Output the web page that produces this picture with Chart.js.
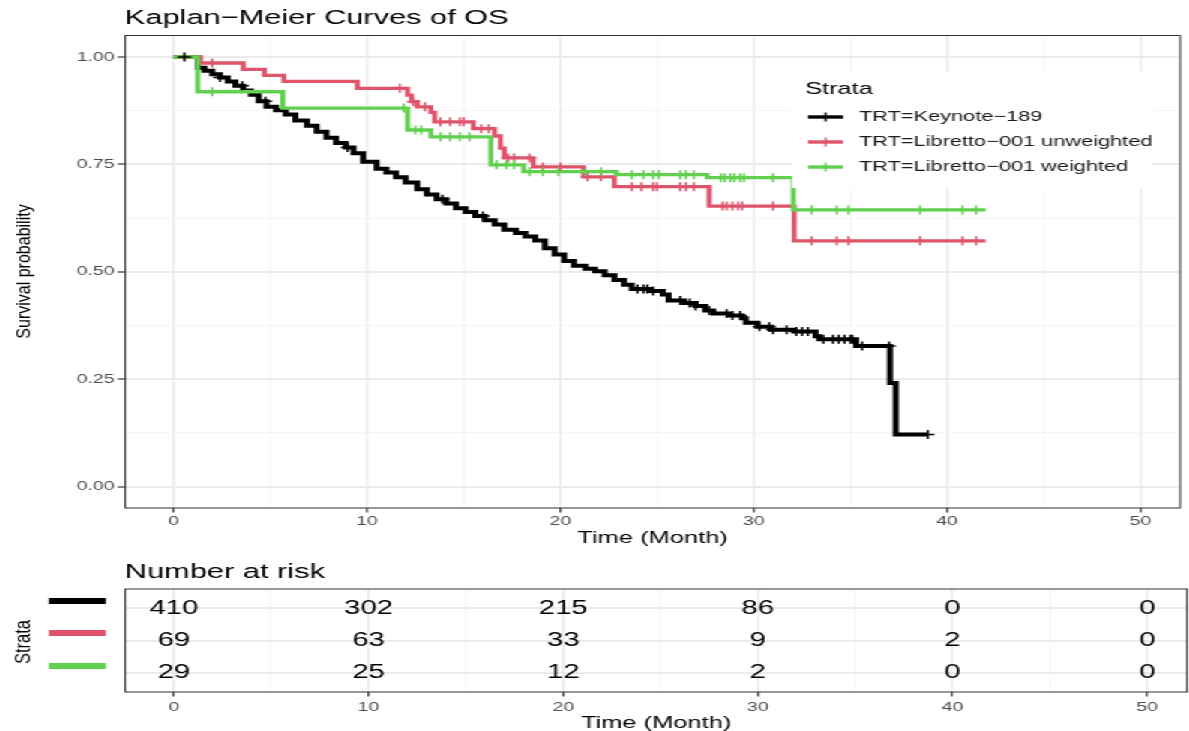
<!DOCTYPE html>
<html>
<head>
<meta charset="utf-8">
<title>Kaplan−Meier Curves of OS</title>
<script src="https://cdn.jsdelivr.net/npm/chart.js@4.4.1/dist/chart.umd.min.js"></script>
<style>
  html, body { margin: 0; padding: 0; background: #fff; overflow: hidden; }
  /* the whole figure is drawn narrow and stretched sideways */
  #stage { position: absolute; left: 0; top: 0; width: 793px; height: 731px; transform-origin: 0 0; transform: scaleX(1.49937); }
  #km { position: absolute; left: 0; top: 0; }
  #risk { position: absolute; left: 0; top: 560px; }
</style>
</head>
<body>
<div id="stage">
  <canvas id="km" width="793" height="560"></canvas>
  <canvas id="risk" width="793" height="171"></canvas>
</div>
<script>
// Keynote-189 (time in months, survival after each step)
const keynoteTime = [0, 1.25, 1.6, 2.0, 2.4, 2.8, 3.2, 3.6, 4.0, 4.4, 4.8, 5.3, 5.8, 6.3, 6.9, 7.4, 7.9, 8.4, 8.9, 9.3,
  9.8, 10.5, 11.0, 11.5, 12.0, 12.6, 13.1, 13.6, 14.1, 14.6, 15.1, 15.6, 16.1, 16.6, 17.1, 17.7, 18.2, 18.7, 19.2, 19.7,
  20.2, 20.7, 21.3, 21.8, 22.3, 22.8, 23.3, 23.7, 24.6, 25.3, 25.6, 26.4, 27.0, 27.5, 27.9, 28.8, 29.4, 29.6, 30.2, 30.9,
  32.1, 33.2, 33.4, 35.3, 37.05, 37.35, 39.0];
const keynoteSurv = [1.0, 0.975, 0.968, 0.960, 0.952, 0.943, 0.933, 0.922, 0.912, 0.897, 0.884, 0.876, 0.866, 0.852, 0.840, 0.826, 0.812, 0.800, 0.789, 0.776,
  0.756, 0.740, 0.731, 0.720, 0.708, 0.692, 0.680, 0.669, 0.659, 0.648, 0.639, 0.630, 0.620, 0.610, 0.598, 0.590, 0.582, 0.573, 0.555, 0.540,
  0.525, 0.514, 0.507, 0.501, 0.492, 0.481, 0.470, 0.460, 0.455, 0.447, 0.433, 0.427, 0.420, 0.410, 0.403, 0.398, 0.392, 0.381, 0.372, 0.365,
  0.361, 0.350, 0.343, 0.327, 0.241, 0.121, 0.121];
const keynoteCensor = [0.56, 2.4, 3.55, 4.75, 9.0, 13.9, 16.0, 24.0, 24.3, 24.5, 24.8, 26.2, 26.7, 27.0, 27.7, 28.6, 28.9, 29.3,
  30.3, 30.8, 31.0, 31.7, 32.2, 32.5, 32.8, 33.6, 34.1, 34.4, 34.7, 35.0, 35.1, 35.6, 37.0, 39.0];

// Libretto-001 unweighted
const unweightedTime = [0, 1.4, 3.6, 4.7, 5.7, 9.5, 12.1, 12.3, 12.6, 13.3, 13.5, 15.5, 16.6, 16.9, 17.1, 18.6, 21.2, 22.8, 27.7, 32.1, 42.0];
const unweightedSurv = [1.0, 0.986, 0.971, 0.957, 0.943, 0.927, 0.911, 0.896, 0.884, 0.871, 0.849, 0.833, 0.816, 0.788, 0.765, 0.744, 0.721, 0.698, 0.653, 0.572, 0.572];
const unweightedCensor = [2.0, 11.7, 12.4, 13.0, 13.8, 14.3, 14.8, 15.0, 15.9, 16.3, 17.3, 17.6, 18.4, 19.1, 20.0, 21.4, 22.1,
  23.7, 24.2, 24.8, 25.0, 26.2, 26.5, 26.9, 28.4, 28.6, 28.9, 29.2, 29.4, 31.0, 33.0, 34.3, 34.9, 38.6, 40.8, 41.5];

// Libretto-001 weighted
const weightedTime = [0, 1.25, 5.65, 12.1, 13.3, 16.4, 18.1, 22.9, 27.6, 32.05, 42.0];
const weightedSurv = [1.0, 0.919, 0.881, 0.830, 0.814, 0.749, 0.733, 0.726, 0.719, 0.644, 0.644];
const weightedCensor = [2.0, 11.9, 12.5, 12.8, 13.8, 14.3, 14.8, 15.3, 16.7, 17.2, 17.6, 18.4, 19.1, 19.9, 21.3, 22.1,
  23.7, 24.3, 24.8, 25.1, 26.2, 26.5, 26.9, 28.3, 28.5, 28.8, 29.0, 29.3, 29.5, 31.0, 33.0, 34.3, 34.9, 38.6, 40.8, 41.5];

const strataLabels = ['TRT=Keynote\u2212189', 'TRT=Libretto\u2212001 unweighted', 'TRT=Libretto\u2212001 weighted'];
const strataColors = ['#000000', '#DF536B', '#61D04F'];

// number at risk table
const riskTimes = [0, 10, 20, 30, 40, 50];
const riskKeynote = [410, 302, 215, 86, 0, 0];
const riskUnweighted = [69, 63, 33, 9, 2, 0];
const riskWeighted = [29, 25, 12, 2, 0, 0];

const xTickValues = [0, 5, 10, 15, 20, 25, 30, 35, 40, 45, 50];
const yTickValues = [0, 0.125, 0.25, 0.375, 0.5, 0.625, 0.75, 0.875, 1.0];

const SX = 1189 / 793;
const px = x => x / SX;   // page x -> canvas x
const FONT = "'Liberation Sans', Arial, Helvetica, sans-serif";
Chart.defaults.font.family = FONT;

const isMajorX = v => Math.abs(v % 10) < 1e-9;
const isMajorY = v => Math.abs(v * 4 - Math.round(v * 4)) < 1e-9;

function stepData(times, surv) {
  return times.map((t, i) => ({ x: t, y: surv[i] }));
}
function survAt(times, surv, t) {
  let s = surv[0];
  times.forEach((tt, i) => { if (tt <= t) s = surv[i]; });
  return s;
}
function censorData(times, surv, cens) {
  return cens.map(t => ({ x: t, y: survAt(times, surv, t) }));
}

function timeAxis(height, labelPad) {
  return {
    type: 'linear', min: -2.5, max: 52.05,
    afterBuildTicks: s => { s.ticks = xTickValues.map(v => ({ value: v })); },
    afterFit: s => { s.height = height; },
    ticks: {
      callback: v => isMajorX(v) ? String(v) : '',
      autoSkip: false, maxRotation: 0, padding: labelPad,
      color: '#4D4D4D', font: { size: 13 }
    },
    grid: {
      color: c => (c.tick && isMajorX(c.tick.value)) ? '#EBEBEB' : '#F4F4F4',
      lineWidth: c => (c.tick && isMajorX(c.tick.value)) ? 1.5 : 0.8,
      tickLength: 4.5,
      tickColor: c => (c.tick && isMajorX(c.tick.value)) ? '#333333' : 'rgba(0,0,0,0)',
      tickWidth: 1.2
    },
    border: { display: false }
  };
}

// vertical axis titles; the extra x scale keeps the glyphs as thick as the rest
function rotatedText(ctx, text, x, y, size) {
  ctx.save();
  ctx.translate(x, y);
  ctx.scale(0.85, 1);
  ctx.rotate(-Math.PI / 2);
  ctx.font = size + 'px ' + FONT;
  ctx.fillStyle = '#000';
  ctx.textAlign = 'center';
  ctx.textBaseline = 'alphabetic';
  ctx.fillText(text, 0, 0);
  ctx.restore();
}

// titles, panel border and the legend box inside the panel
const kmDecor = {
  id: 'kmDecor',
  afterDraw(chart) {
    const ctx = chart.ctx, ca = chart.chartArea;
    ctx.save();
    ctx.strokeStyle = '#333333';
    ctx.lineWidth = 1;
    ctx.strokeRect(ca.left, ca.top, ca.right - ca.left, ca.bottom - ca.top);

    ctx.fillStyle = '#000';
    ctx.textAlign = 'left';
    ctx.textBaseline = 'alphabetic';
    ctx.font = '20.5px ' + FONT;
    ctx.fillText('Kaplan\u2212Meier Curves of OS', px(125), 24);

    ctx.font = '17px ' + FONT;
    ctx.textAlign = 'center';
    ctx.fillText('Time (Month)', (ca.left + ca.right) / 2, 543);
    ctx.restore();

    rotatedText(ctx, 'Survival probability', px(30), 271.5, 16);

    // legend
    ctx.save();
    ctx.fillStyle = '#fff';
    ctx.fillRect(px(792), 72, px(1152) - px(792), 116);
    ctx.fillStyle = '#000';
    ctx.textAlign = 'left';
    ctx.textBaseline = 'alphabetic';
    ctx.font = '17px ' + FONT;
    ctx.fillText('Strata', px(805), 94);
    ctx.font = '14.5px ' + FONT;
    ctx.textBaseline = 'middle';
    strataLabels.forEach((lab, i) => {
      const y = 117 + 25 * i;
      ctx.strokeStyle = strataColors[i];
      ctx.lineWidth = 3.4;
      ctx.beginPath();
      ctx.moveTo(px(808), y);
      ctx.lineTo(px(843), y);
      ctx.stroke();
      ctx.lineWidth = 1.5;
      ctx.beginPath();
      ctx.moveTo(px(825.5), y - 4.5);
      ctx.lineTo(px(825.5), y + 4.5);
      ctx.stroke();
      ctx.fillStyle = '#1A1A1A';
      ctx.fillText(lab, px(859), y);
    });
    ctx.restore();
  }
};

const survSeries = [
  [keynoteTime, keynoteSurv, keynoteCensor],
  [unweightedTime, unweightedSurv, unweightedCensor],
  [weightedTime, weightedSurv, weightedCensor]
];

const kmDatasets = [];
survSeries.forEach(([t, s, c], i) => {
  kmDatasets.push({
    label: strataLabels[i],
    data: stepData(t, s),
    showLine: true, stepped: 'before',
    borderColor: strataColors[i], borderWidth: i === 0 ? 4 : 3.3,
    pointRadius: 0, order: 6 - i
  });
  kmDatasets.push({
    label: strataLabels[i] + ' censored',
    data: censorData(t, s, c),
    showLine: false, pointStyle: 'cross', pointRadius: 4.5,
    borderColor: strataColors[i], pointBorderWidth: 1.5,
    order: 3 - i
  });
});

new Chart(document.getElementById('km'), {
  type: 'scatter',
  data: { datasets: kmDatasets },
  options: {
    responsive: false, animation: false, devicePixelRatio: 1, events: [],
    layout: { padding: { left: 0, right: px(2), top: 35.5, bottom: 0 } },
    plugins: { legend: { display: false }, tooltip: { enabled: false } },
    scales: {
      x: timeAxis(52, 1),
      y: {
        type: 'linear', min: -0.05, max: 1.05,
        afterBuildTicks: s => { s.ticks = yTickValues.map(v => ({ value: v })); },
        afterFit: s => { s.width = px(125.3); },
        ticks: {
          callback: v => isMajorY(v) ? v.toFixed(2) : '',
          padding: 2, color: '#4D4D4D', font: { size: 13 }
        },
        grid: {
          color: c => (c.tick && isMajorY(c.tick.value)) ? '#EBEBEB' : '#F4F4F4',
          lineWidth: c => (c.tick && isMajorY(c.tick.value)) ? 2 : 1,
          tickLength: 5,
          tickColor: c => (c.tick && isMajorY(c.tick.value)) ? '#333333' : 'rgba(0,0,0,0)',
          tickWidth: 1.2
        },
        border: { display: false }
      }
    }
  },
  plugins: [kmDecor]
});

// risk table: counts placed at (time, stratum row)
const riskCounts = [riskKeynote, riskUnweighted, riskWeighted];

const riskDecor = {
  id: 'riskDecor',
  afterDraw(chart) {
    const ctx = chart.ctx, ca = chart.chartArea;
    ctx.save();
    ctx.strokeStyle = '#333333';
    ctx.lineWidth = 1;
    ctx.strokeRect(ca.left, ca.top, ca.right - ca.left, ca.bottom - ca.top);

    ctx.fillStyle = '#000';
    ctx.textAlign = 'left';
    ctx.textBaseline = 'alphabetic';
    ctx.font = '20.5px ' + FONT;
    ctx.fillText('Number at risk', px(125), 18);

    ctx.font = '19.5px ' + FONT;
    ctx.textAlign = 'center';
    ctx.textBaseline = 'middle';
    riskCounts.forEach((counts, d) => {
      chart.getDatasetMeta(d).data.forEach((pt, i) => {
        ctx.fillText(String(counts[i]), pt.x, pt.y);
      });
    });

    [41, 73, 106].forEach((y, d) => {
      ctx.fillStyle = strataColors[d];
      ctx.fillRect(px(49), y - 3, px(106) - px(49), 6);
    });

    ctx.fillStyle = '#000';
    ctx.font = '17px ' + FONT;
    ctx.textBaseline = 'alphabetic';
    ctx.fillText('Time (Month)', (ca.left + ca.right) / 2, 168);
    ctx.restore();

    rotatedText(ctx, 'Strata', px(30), 82, 16.5);
  }
};

new Chart(document.getElementById('risk'), {
  type: 'scatter',
  data: {
    datasets: riskCounts.map((counts, d) => ({
      label: strataLabels[d],
      data: riskTimes.map(t => ({ x: t, y: d + 1 })),
      pointRadius: 0, showLine: false
    }))
  },
  options: {
    responsive: false, animation: false, devicePixelRatio: 1, events: [],
    layout: { padding: { left: 0, right: px(2), top: 29, bottom: 0 } },
    plugins: { legend: { display: false }, tooltip: { enabled: false } },
    scales: {
      x: timeAxis(39, 3),
      y: {
        type: 'linear', min: 0.4, max: 3.6, reverse: true,
        afterBuildTicks: s => { s.ticks = [1, 2, 3].map(v => ({ value: v })); },
        afterFit: s => { s.width = px(125.3); },
        ticks: { display: false },
        grid: { color: '#EBEBEB', lineWidth: 2, drawTicks: false },
        border: { display: false }
      }
    }
  },
  plugins: [riskDecor]
});
</script>
</body>
</html>
